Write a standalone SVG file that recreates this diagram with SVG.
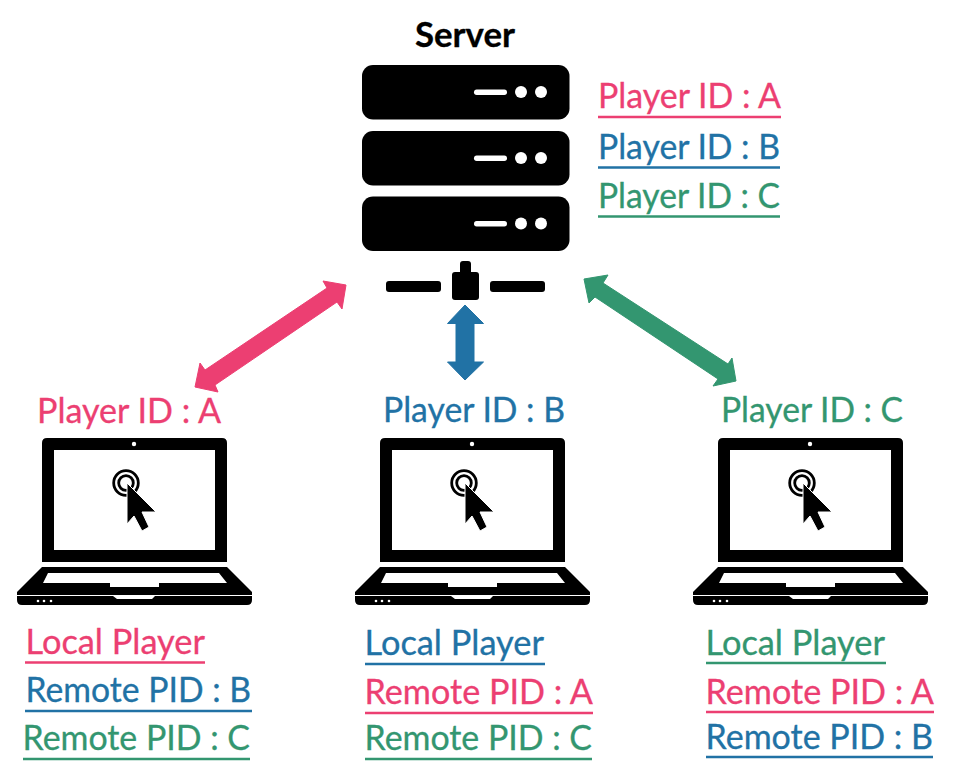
<svg xmlns="http://www.w3.org/2000/svg" width="957" height="783" viewBox="0 0 957 783">
<style>
text{font-family:"Lato","Carlito","Open Sans",sans-serif;font-size:34px;stroke-width:.3;lengthAdjust:spacingAndGlyphs}
.p{fill:#ec3f72;stroke:#ec3f72}.b{fill:#2172a5;stroke:#2172a5}.g{fill:#339670;stroke:#339670}
polygon{stroke:none}
line{stroke-width:2.500}
</style>
<defs>
<g id="rack"><rect x="362" y="0" width="207.500" height="54.500" rx="11" fill="#000"/><rect x="474" y="24.500" width="33" height="5.500" rx="2.700" fill="#fff"/><circle cx="521" cy="27" r="6" fill="#fff"/><circle cx="541" cy="27" r="6" fill="#fff"/></g>
<g id="laptop">
<path d="M47 438H222Q227 438 227 443V562H42V443Q42 438 47 438Z" fill="#000"/>
<rect x="54" y="450" width="161" height="100" fill="#fff"/>
<circle cx="134" cy="444" r="2.200" fill="#fff"/>
<path d="M42 567H227L252 592V595H17V592Z" fill="#000"/>
<path d="M48 573H219L227 583H159V587H110V583H43Z" fill="#fff"/>
<path d="M17 596H113L117 599H152L155 596H252V600Q252 605 247 605H22Q17 605 17 600Z" fill="#000"/>
<circle cx="38" cy="601" r="1.300" fill="#fff"/><circle cx="44" cy="601" r="1.300" fill="#fff"/><circle cx="51" cy="601" r="1.300" fill="#fff"/>
<circle cx="126" cy="483" r="12.300" fill="none" stroke="#000" stroke-width="2.800"/>
<circle cx="126" cy="483" r="7.300" fill="none" stroke="#000" stroke-width="2.800"/>
<path d="M127 483L156 512H142L149 527L142 531L134 516L127 524Z" fill="#000" stroke="#fff" stroke-width="1"/>
</g>
</defs>
<g id="connectors">
<polygon class="p" points="346,285 323,281 327,288 205,370 200,363 195,387 218,392 215,385 337,302 342,309"/>
<polygon class="b" points="465,305 483.500,323.500 474,323.500 474,362 483.500,362 465,380 447.500,362 456,362 456,323.500 447.500,323.500"/>
<polygon class="g" points="584,279 608,275 603,283 728,364 732,358 736,381 713,386 718,379 595,297 589,303"/>
</g>
<g id="server">
<text x="465" y="47" text-anchor="middle" font-weight="700" fill="#000" stroke="#000" textLength="100" lengthAdjust="spacingAndGlyphs">Server</text>
<use href="#rack" y="65"/><use href="#rack" y="131"/><use href="#rack" y="196.500"/>
<rect x="386" y="281" width="55" height="11" rx="3" fill="#000"/>
<rect x="490" y="281" width="55" height="11" rx="3" fill="#000"/>
<rect x="452" y="272" width="27" height="28" rx="3" fill="#000"/>
<rect x="460" y="261" width="11" height="16" rx="3" fill="#000"/>
<text class="p" x="598" y="108" textLength="183" lengthAdjust="spacingAndGlyphs">Player ID : A</text><line class="p" x1="598" x2="781" y1="117" y2="117"/>
<text class="b" x="598" y="159" textLength="182" lengthAdjust="spacingAndGlyphs">Player ID : B</text><line class="b" x1="598" x2="780" y1="167.500" y2="167.500"/>
<text class="g" x="598" y="208" textLength="182" lengthAdjust="spacingAndGlyphs">Player ID : C</text><line class="g" x1="598" x2="780" y1="216.500" y2="216.500"/>
</g>
<g id="client-a">
<use href="#laptop"/>
<text class="p" x="37" y="423" textLength="184" lengthAdjust="spacingAndGlyphs">Player ID : A</text>
<text class="p" x="25.500" y="654" textLength="179.500" lengthAdjust="spacingAndGlyphs">Local Player</text><line class="p" x1="25" x2="205" y1="662.500" y2="662.500"/>
<text class="b" x="25.500" y="702" textLength="225.500" lengthAdjust="spacingAndGlyphs">Remote PID : B</text><line class="b" x1="25" x2="252" y1="711" y2="711"/>
<text class="g" x="22.500" y="750" textLength="227.500" lengthAdjust="spacingAndGlyphs">Remote PID : C</text><line class="g" x1="23" x2="250" y1="759" y2="759"/>
</g>
<g id="client-b">
<use href="#laptop" x="338"/>
<text class="b" x="383" y="422" textLength="182" lengthAdjust="spacingAndGlyphs">Player ID : B</text>
<text class="b" x="364.500" y="655" textLength="179.500" lengthAdjust="spacingAndGlyphs">Local Player</text><line class="b" x1="365" x2="545" y1="664" y2="664"/>
<text class="p" x="364.500" y="704" textLength="228.500" lengthAdjust="spacingAndGlyphs">Remote PID : A</text><line class="p" x1="365" x2="593" y1="713" y2="713"/>
<text class="g" x="364.500" y="750" textLength="227.500" lengthAdjust="spacingAndGlyphs">Remote PID : C</text><line class="g" x1="365" x2="592" y1="759" y2="759"/>
</g>
<g id="client-c">
<use href="#laptop" x="676"/>
<text class="g" x="721" y="422" textLength="182" lengthAdjust="spacingAndGlyphs">Player ID : C</text>
<text class="g" x="705.500" y="655" textLength="179.500" lengthAdjust="spacingAndGlyphs">Local Player</text><line class="g" x1="706" x2="886" y1="663" y2="663"/>
<text class="p" x="705.500" y="704" textLength="228.500" lengthAdjust="spacingAndGlyphs">Remote PID : A</text><line class="p" x1="706" x2="934" y1="712" y2="712"/>
<text class="b" x="705.500" y="749" textLength="227.500" lengthAdjust="spacingAndGlyphs">Remote PID : B</text><line class="b" x1="706" x2="933" y1="757" y2="757"/>
</g>
</svg>
